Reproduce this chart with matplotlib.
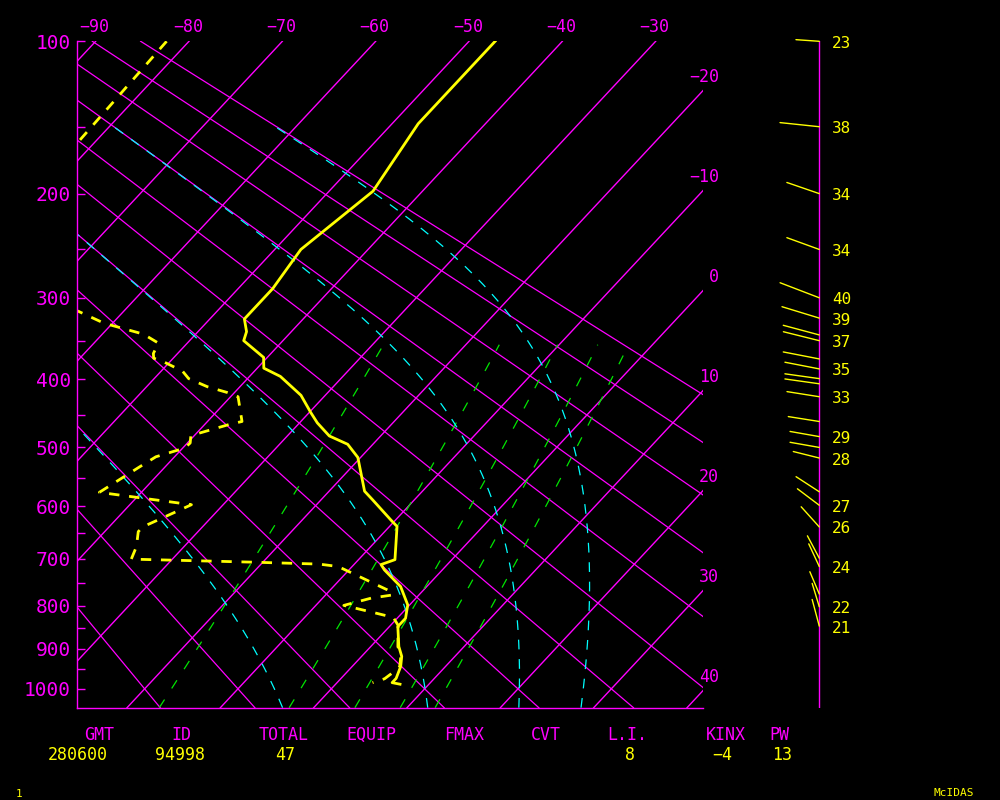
import numpy as np
import matplotlib
matplotlib.use("Agg")
from matplotlib import pyplot as plt

# ---- sounding data (pressure hPa, temperature C) ----
temp_p = [100, 148, 198, 250, 290, 324, 339, 350, 371, 385, 396, 422, 447, 462,
          482, 495, 516, 573, 588, 625, 637, 702, 712, 723, 758, 798, 828, 847,
          894, 918, 943, 973, 984, 988]
temp_t = [-47.2, -47.2, -45.3, -47.2, -46.3, -46.3, -44.8, -44.2, -40.4, -39.3,
          -36.7, -32.6, -29.8, -28.1, -25.5, -22.7, -20.3, -16.2, -14.5, -10.5,
          -9.2, -6.1, -7.1, -6.2, -2.8, -0.2, 0.9, 0.9, 3.0, 4.3, 5.2, 5.9, 5.9, 6.9]

dwpt_p = [100, 161, 240, 315, 329, 342, 353, 366, 372, 377, 389, 399, 410, 418,
          424, 460, 464, 477, 481, 493, 501, 515, 533, 555, 575, 597, 638, 647,
          676, 701, 707, 711, 716, 769, 776, 783, 799, 815, 826, 844, 894, 918,
          943, 962, 974, 984]
dwpt_t = [-82.4, -81.8, -90.0, -64.9, -60.9, -55.6, -53.1, -52.6, -52.1, -50.6,
          -47.7, -46.3, -43.5, -40.8, -39.2, -36.3, -37.3, -39.6, -40.4, -39.7,
          -39.8, -42.0, -42.8, -43.7, -44.5, -33.4, -36.4, -36.4, -35.1, -34.4,
          -21.3, -13.8, -11.5, -3.3, -2.8, -4.8, -7.0, -3.1, -0.5, 0.8, 2.9, 4.2,
          5.1, 4.9, 4.7, 3.8]

# ---- winds ----
wind_p = [100, 150, 200, 250, 300, 323, 343, 350, 373, 386, 399, 406, 424, 460,
          483, 500, 517, 574, 598, 638, 699, 716, 774, 802, 846]
wind_dir = [274, 276, 289, 290, 291, 287, 285, 284, 281, 281, 278, 278, 279, 279,
            280, 280, 284, 303, 307, 318, 332, 335, 337, 343, 345]
wind_len = [23.4, 39.5, 34.3, 34.5, 42, 39, 37.3, 37, 36.7, 35, 34.7, 34.7, 32.7,
            31.4, 29.7, 29.7, 26.8, 27.7, 27.4, 27.1, 25.3, 25, 24.2, 24.4, 27.6]
wind_lbl = ['23', '38', '34', '34', '40', '39', '', '37', '', '35', '', '', '33',
            '', '29', '', '28', '', '27', '26', '', '24', '', '22', '21']

# ---- background lines ----
isotherms = list(range(-90, 41, 10))
dry_adiabats = list(range(-20, 91, 10))      # theta, C
theta_e = [0, 30, 60, 90]                    # equivalent potential temp, C
mix_ratios = [1, 3, 5, 7, 9]                 # g/kg
pres_ticks = list(range(100, 1001, 50))

# ---- station info ----
info_labels = ['GMT', 'ID', 'TOTAL', 'EQUIP', 'FMAX', 'CVT', 'L.I.', 'KINX', 'PW']
info_values = ['280600', '94998', '47', '', '', '', '8', '\u22124', '13']

MAG = '#ff00ff'
YEL = '#ffff00'
CYN = '#00ffff'
GRN = '#00e600'

KAPPA = 0.286
P_TOP, P_BOT = 100, 1050
SKEW = 18.615
XL, XR = -92.0, -24.93

plt.rcParams['font.family'] = ['DejaVu Sans Mono']
plt.rcParams['lines.scale_dashes'] = False


def fwd(p):
    return np.power(np.clip(p, 1e-6, None), KAPPA)


def inv(y):
    return np.power(np.clip(y, 1e-6, None), 1.0 / KAPPA)


def skx(t, p):
    return np.asarray(t) - SKEW * (fwd(np.asarray(p, dtype=float)) - fwd(P_TOP))


def theta_e_line(the_c, p):
    # temperature along a line of constant theta-e (simple form)
    target = the_c + 273.15
    lo = np.full_like(p, 150.0)
    hi = np.full_like(p, 330.0)
    for _ in range(60):
        t = 0.5 * (lo + hi)
        es = 6.112 * np.exp(17.67 * (t - 273.15) / (t - 29.65))
        rs = 0.622 * es / (p - es)
        th = t * (1000.0 / p) ** KAPPA * np.exp(2.501e6 * rs / (1005.7 * t))
        big = th > target
        hi = np.where(big, t, hi)
        lo = np.where(big, lo, t)
    return 0.5 * (lo + hi) - 273.15


fig = plt.figure(figsize=(10, 8), dpi=100, facecolor='black')
ax = fig.add_axes([0.077, 0.11538, 0.626, 0.833])
ax.set_facecolor('black')
ax.set_yscale('function', functions=(fwd, inv))
ax.set_ylim(P_BOT, P_TOP)
ax.set_xlim(XL, XR)

pp = np.linspace(P_TOP, P_BOT, 200)

# isotherms
for t in isotherms:
    ax.plot(skx(t, pp), pp, color=MAG, lw=1.0)
# dry adiabats
for th in dry_adiabats:
    tt = (th + 273.15) * (pp / 1000.0) ** KAPPA - 273.15
    ax.plot(skx(tt, pp), pp, color=MAG, lw=0.9)
# mixing ratio lines
for w in mix_ratios:
    pw = np.linspace(P_BOT, 355, 100)
    e = w * pw / (622.0 + w)
    le = np.log(e / 6.112)
    tw = 243.5 * le / (17.67 - le)
    ax.plot(skx(tw, pw), pw, color=GRN, lw=0.9, dashes=(7, 9.5))
# moist (theta-e) lines
pm = np.linspace(P_BOT, 150, 300)
for the in theta_e:
    tm = theta_e_line(the, pm)
    ax.plot(skx(tm, pm), pm, color=CYN, lw=0.9, dashes=(7, 7))

# sounding
ax.plot(skx(dwpt_t, dwpt_p), dwpt_p, color=YEL, lw=2.0, dashes=(7.5, 7))
ax.plot(skx(temp_t, temp_p), temp_p, color=YEL, lw=2.0)

# axes styling
for s in ['top', 'right']:
    ax.spines[s].set_visible(False)
for s in ['left', 'bottom']:
    ax.spines[s].set_color(MAG)
    ax.spines[s].set_linewidth(1.0)
ax.set_xticks([])
ax.set_yticks(pres_ticks)
ax.set_yticklabels([str(p) if p % 100 == 0 else '' for p in pres_ticks])
ax.yaxis.set_minor_locator(matplotlib.ticker.NullLocator())
ax.tick_params(axis='y', direction='in', length=5.8, width=1.0, colors=MAG,
               labelsize=14, pad=4.3)

# isotherm labels
for t in isotherms:
    txt = str(t).replace('-', '\u2212')
    if t <= -30:
        ax.annotate(txt, xy=(t, P_TOP), xytext=(-1, 14), textcoords='offset pixels',
                    ha='center', va='center', color=MAG, fontsize=12,
                    annotation_clip=False)
    else:
        pe = inv(fwd(P_TOP) + (t - XR) / SKEW)
        ax.annotate(txt, xy=(XR, pe), xytext=(16, 13.5), textcoords='offset pixels',
                    ha='right', va='center', color=MAG, fontsize=12,
                    annotation_clip=False)

# wind panel
axw = fig.add_axes([0.76, 0.11538, 0.12, 0.833])
axw.set_yscale('function', functions=(fwd, inv))
axw.set_ylim(P_BOT, P_TOP)
axw.set_xlim(760, 880)
axw.axis('off')
axw.patch.set_alpha(0)
XB = 819.3
axw.plot([XB, XB], [P_TOP, P_BOT], color=MAG, lw=1.0)
for p, d, ln, lb in zip(wind_p, wind_dir, wind_len, wind_lbl):
    a = np.radians(d)
    axw.annotate('', xy=(XB, p), xytext=(ln * np.sin(a), ln * np.cos(a)),
                 textcoords='offset pixels',
                 arrowprops=dict(arrowstyle='-', color=YEL, lw=1.0,
                                 shrinkA=0, shrinkB=0))
    if lb:
        axw.annotate(lb, xy=(XB, p), xytext=(13, -2), textcoords='offset pixels',
                     ha='left', va='center', color=YEL, fontsize=11.5,
                     annotation_clip=False)

# station info line
lab_x = [99, 181, 284, 371, 464, 546, 627, 726, 779]
val_x = [77.5, 180, 285, 371, 464, 546, 630, 722, 782]
for lb, vl, lx, vx in zip(info_labels, info_values, lab_x, val_x):
    fig.text(lx / 1000, 1 - 735 / 800, lb, color=MAG, fontsize=12,
             ha='center', va='center')
    if vl:
        fig.text(vx / 1000, 1 - 754.5 / 800, vl, color=YEL, fontsize=12,
                 ha='center', va='center')
fig.text(19 / 1000, 1 - 794 / 800, '1', color=YEL, fontsize=8, ha='center', va='center')
fig.text(954 / 1000, 1 - 793 / 800, 'McIDAS', color=YEL, fontsize=8,
         ha='center', va='center')

fig.savefig('out.png', dpi=100, facecolor='black')
